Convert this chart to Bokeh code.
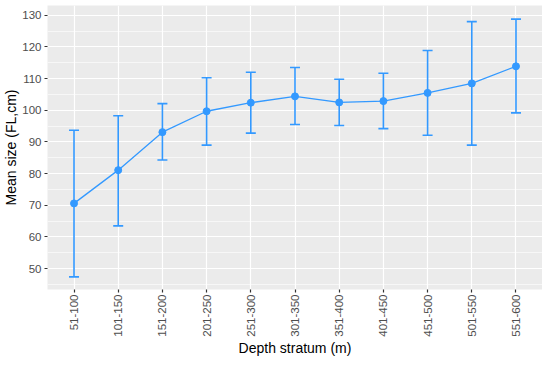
import math
from bokeh.plotting import figure
from bokeh.models import ColumnDataSource, Whisker, TeeHead, FactorRange, Range1d, SingleIntervalTicker
from bokeh.embed import file_html
from bokeh.resources import INLINE

strata = ["51-100", "101-150", "151-200", "201-250", "251-300", "301-350",
          "351-400", "401-450", "451-500", "501-550", "551-600"]
mean_size = [70.6, 81.1, 93.1, 99.7, 102.4, 104.4, 102.5, 102.9, 105.5, 108.5, 113.9]
upper = [93.7, 98.3, 102.1, 110.3, 112.0, 113.5, 109.8, 111.7, 118.9, 128.0, 128.8]
lower = [47.4, 63.5, 84.3, 89.0, 92.8, 95.5, 95.2, 94.2, 92.1, 89.0, 99.2]

COL = "#3399FF"
FONT = "Liberation Sans"

src = ColumnDataSource(dict(x=strata, y=mean_size, upper=upper, lower=lower))

p = figure(width=542, height=358, output_backend="svg", toolbar_location=None,
           x_range=FactorRange(*strata, range_padding=0.1, range_padding_units="absolute"),
           y_range=Range1d(43.4, 133.1),
           min_border_top=5, min_border_right=0, min_border_left=0, min_border_bottom=0)

p.background_fill_color = "#EBEBEB"
p.border_fill_color = "white"
p.outline_line_color = None

p.yaxis.ticker = SingleIntervalTicker(interval=10, num_minor_ticks=2)
p.xgrid.grid_line_color = "white"
p.xgrid.grid_line_width = 1.2
p.ygrid.grid_line_color = "white"
p.ygrid.grid_line_width = 1.2
p.ygrid.minor_grid_line_color = "white"
p.ygrid.minor_grid_line_width = 0.6

for ax in (p.xaxis, p.yaxis):
    ax.axis_line_color = None
    ax.major_tick_line_color = "#333333"
    ax.major_tick_line_width = 1.2
    ax.major_tick_in = 0
    ax.major_tick_out = 3
    ax.minor_tick_line_color = None
    ax.major_label_text_font = FONT
    ax.major_label_text_font_size = "11.5px"
    ax.major_label_text_color = "#4D4D4D"
    ax.axis_label_text_font = FONT
    ax.axis_label_text_font_size = "14px"
    ax.axis_label_text_font_style = "normal"
    ax.axis_label_text_color = "black"
    ax.major_label_standoff = 2
    ax.axis_label_standoff = 0

p.xaxis.major_label_orientation = math.pi / 2
p.xaxis.axis_label = "Depth stratum (m)"
p.yaxis.axis_label = "Mean size (FL,cm)"

p.add_layout(Whisker(source=src, base="x", upper="upper", lower="lower",
                     line_color=COL, line_width=1.6,
                     upper_head=TeeHead(size=10, line_color=COL, line_width=1.6),
                     lower_head=TeeHead(size=10, line_color=COL, line_width=1.6)))
p.line("x", "y", source=src, line_color=COL, line_width=1.3)
p.scatter("x", "y", source=src, size=7, fill_color=COL, line_color=COL)

open("out.html", "w").write(file_html(p, INLINE))
